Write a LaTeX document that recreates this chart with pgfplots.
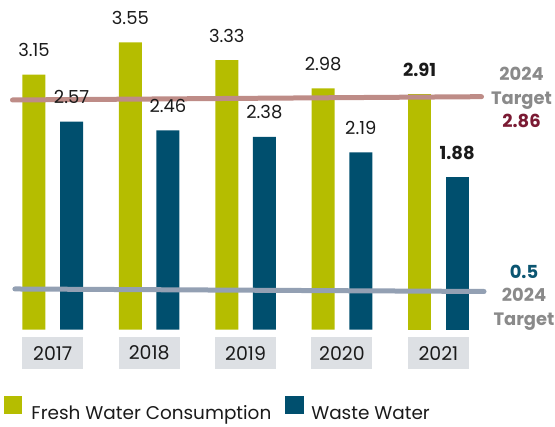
\documentclass[border=0pt]{standalone}
\usepackage{fontspec}
\setmainfont{Poppins}
\usepackage{pgfplots}
\pgfplotsset{compat=1.18}

\definecolor{fresh}{HTML}{B5BD00}
\definecolor{waste}{HTML}{004F6E}
\definecolor{tgtline}{HTML}{BE8C87}
\definecolor{wwline}{HTML}{93A0B3}
\definecolor{yearbox}{HTML}{DDE0E4}
\definecolor{lblgray}{HTML}{8A8A8A}
\definecolor{tgtred}{HTML}{7A1A33}
\definecolor{tgtblue}{HTML}{0B5571}
\definecolor{txt}{HTML}{1A1A1A}

\begin{document}
\begin{tikzpicture}
\path[use as bounding box] (0,0) rectangle (555bp,427bp);
\begin{axis}[
    at={(0bp,97.5bp)}, anchor=south west,
    scale only axis,
    width=555bp, height=323.6bp,
    xmin=-0.5472, xmax=5.21,
    ymin=0, ymax=4,
    clip=false,
    axis line style={draw=none},
    major tick length=0pt,
    ytick=\empty,
    xtick={0,1,2,3,4},
    xticklabels={2017,2018,2019,2020,2021},
    xticklabel style={fill=yearbox, minimum width=61bp, minimum height=32bp,
        inner sep=0pt, anchor=north, yshift=-7.5bp,
        font=\fontsize{19}{20}\selectfont, text=txt},
    /pgf/number format/assume math mode=true,
    nodes near coords,
    every node near coord/.append style={anchor=south, inner sep=0pt,
        yshift=17.5bp, text=txt, font=\fontsize{18}{20}\selectfont},
    legend style={at={(axis description cs:0.0072,-0.29)}, anchor=south west,
        draw=none, fill=none, inner sep=0pt, outer sep=0pt,
        font=\fontsize{18.5}{20}\selectfont, text=txt,
        /tikz/every even column/.append style={column sep=12bp}},
    legend columns=2,
    legend cell align=left,
]

% fresh water, 2017-2020
\addplot[ybar, bar width=23bp, bar shift=0pt, fill=fresh, draw=none,
    legend image code/.code={\fill[fresh] (0bp,-0.5bp) rectangle (18.5bp,17.5bp);
        \path (25.5bp,0bp);}]
coordinates {(-0.195,3.15) (0.805,3.55) (1.805,3.33) (2.805,2.98)};
\addlegendentry{Fresh Water Consumption}

% waste water, 2017-2020
\addplot[ybar, bar width=23bp, bar shift=0pt, fill=waste, draw=none,
    legend image code/.code={\fill[waste] (0bp,-0.5bp) rectangle (18.5bp,17.5bp);
        \path (24bp,0bp);}]
coordinates {(0.195,2.57) (1.195,2.46) (2.195,2.38) (3.195,2.19)};
\addlegendentry{Waste Water}

% 2021 values are set in bold
\addplot[ybar, bar width=23bp, bar shift=0pt, fill=fresh, draw=none, forget plot,
    every node near coord/.append style={font=\fontsize{18}{20}\selectfont\bfseries}]
coordinates {(3.805,2.91)};
\addplot[ybar, bar width=23bp, bar shift=0pt, fill=waste, draw=none, forget plot,
    every node near coord/.append style={font=\fontsize{18}{20}\selectfont\bfseries}]
coordinates {(4.195,1.88)};

% 2024 targets
\addplot[tgtline, line width=5bp, line cap=round, no marks, nodes near coords=, forget plot]
coordinates {(-0.4175,2.837) (4.4476,2.878)}
node[pos=1, xshift=40bp, yshift=-1bp, align=center, inner sep=0pt,
    font=\fontsize{18}{23.5}\selectfont\bfseries, text=lblgray]
    {2024\\Target\\\textcolor{tgtred}{2.86}};

\addplot[wwline, line width=5bp, line cap=round, no marks, nodes near coords=, forget plot]
coordinates {(-0.3926,0.501) (4.4735,0.470)}
node[pos=1, xshift=40bp, yshift=-6bp, align=center, inner sep=0pt,
    font=\fontsize{18}{23.5}\selectfont\bfseries, text=lblgray]
    {\textcolor{tgtblue}{0.5}\\2024\\Target};

\end{axis}
\end{tikzpicture}
\end{document}
